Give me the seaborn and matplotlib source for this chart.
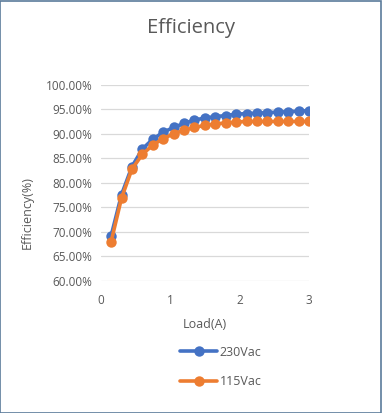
import numpy as np
import pandas as pd
import matplotlib
matplotlib.use("Agg")
import matplotlib.pyplot as plt
from matplotlib.ticker import FuncFormatter, MultipleLocator
from matplotlib.patches import Rectangle
import seaborn as sns

# ---------------------------------------------------------------------------
# Data
# ---------------------------------------------------------------------------
load_a = [0.15, 0.30, 0.45, 0.60, 0.75, 0.90, 1.05, 1.20, 1.35, 1.50,
          1.65, 1.80, 1.95, 2.10, 2.25, 2.40, 2.55, 2.70, 2.85, 3.00]
eff_230 = [69.2, 77.6, 83.3, 86.9, 88.9, 90.3, 91.3, 92.1, 92.8, 93.2,
           93.5, 93.7, 94.0, 94.1, 94.2, 94.3, 94.4, 94.5, 94.6, 94.7]
eff_115 = [68.0, 76.9, 82.8, 85.8, 87.7, 89.0, 90.0, 90.7, 91.3, 91.7,
           92.0, 92.2, 92.4, 92.5, 92.5, 92.5, 92.5, 92.5, 92.5, 92.5]
series_names = ["230Vac", "115Vac"]
series_colors = ["#4472C4", "#ED7D31"]

TEXT_GRAY = "#595959"
GRID_GRAY = "#D9D9D9"

df = pd.DataFrame({
    "Load": load_a * 2,
    "Efficiency": eff_230 + eff_115,
    "Series": [series_names[0]] * len(load_a) + [series_names[1]] * len(load_a),
})

sns.set_style("white")
plt.rcParams["font.family"] = ["Open Sans", "DejaVu Sans"]

fig = plt.figure(figsize=(3.82, 4.13), dpi=100)
ax = fig.add_axes([0.2636, 0.3196, 0.5454, 0.4754])

sns.lineplot(
    data=df, x="Load", y="Efficiency", hue="Series",
    palette=dict(zip(series_names, series_colors)),
    marker="o", markersize=7.5, markeredgewidth=0, linewidth=2.6,
    ax=ax, legend=False,
)

ax.set_xlim(0, 3)
ax.set_ylim(60, 100)
ax.xaxis.set_major_locator(MultipleLocator(1))
ax.yaxis.set_major_locator(MultipleLocator(5))
ax.yaxis.set_major_formatter(FuncFormatter(lambda v, p: f"{v:.2f}%"))
ax.grid(axis="y", color=GRID_GRAY, linewidth=0.9)
ax.set_axisbelow(True)
for s in ax.spines.values():
    s.set_visible(False)
ax.tick_params(axis="both", length=0, labelsize=8.5, colors=TEXT_GRAY, pad=6)
ax.tick_params(axis="x", pad=9)
ax.set_xlabel("")
ax.set_ylabel("")

fig.text(205 / 382, 1 - 325 / 413, "Load(A)", ha="center", va="center",
         fontsize=9, color=TEXT_GRAY)
fig.text(27 / 382, 1 - 213 / 413, "Efficiency(%)", ha="center", va="center",
         rotation=90, fontsize=9, color=TEXT_GRAY)
fig.text(191 / 382, 1 - 28 / 413, "Efficiency", ha="center", va="center",
         fontsize=14.5, color=TEXT_GRAY)

handles = [plt.Line2D([], [], color=c, marker="o", markersize=7.5,
                      markeredgewidth=0, linewidth=2.6) for c in series_colors]
fig.legend(handles, series_names, loc="center", bbox_to_anchor=(221 / 382, 1 - 367 / 413),
           frameon=False, fontsize=9, labelcolor=TEXT_GRAY, handlelength=2.9,
           handletextpad=0.25, labelspacing=1.35)

fig.add_artist(Rectangle((0.001, 0.001), 0.997, 0.997, transform=fig.transFigure,
                         fill=False, edgecolor="#5B7B9B", linewidth=1.2))

fig.savefig("out.png", dpi=100)
